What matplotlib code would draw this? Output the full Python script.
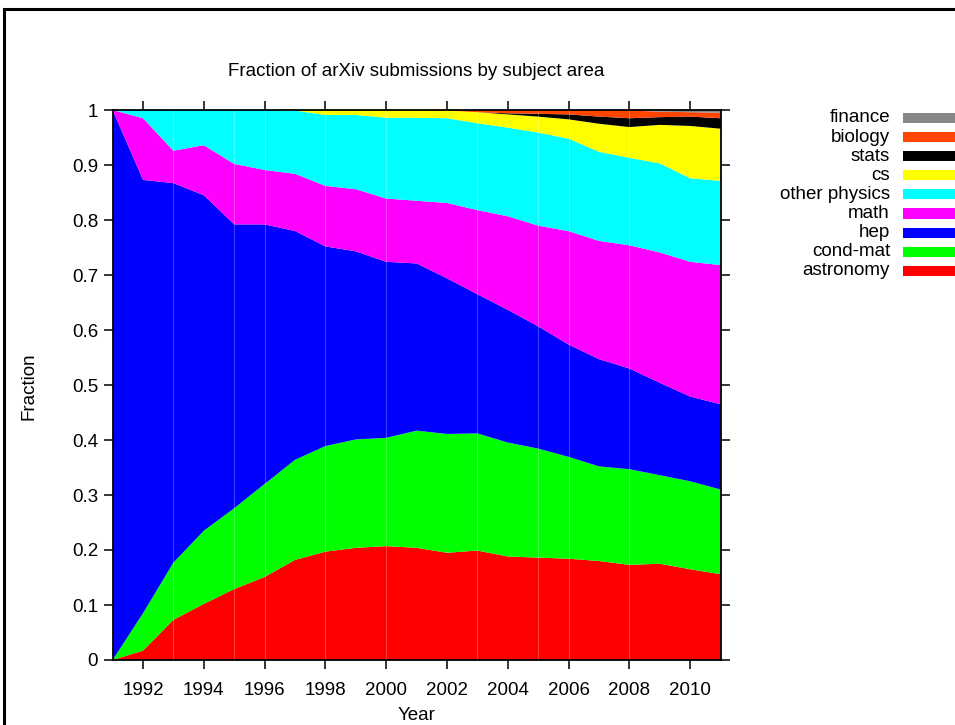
import numpy as np
import matplotlib
matplotlib.use("Agg")
import matplotlib.pyplot as plt
from matplotlib.patches import Rectangle

plt.rcParams['font.family'] = ['Liberation Sans', 'DejaVu Sans']

years = np.arange(1991, 2012)

# fraction of submissions per subject area, one value per year 1991..2011
astronomy = [0.000, 0.017, 0.073, 0.102, 0.129, 0.151, 0.182, 0.197, 0.204, 0.207, 0.204,
             0.195, 0.199, 0.188, 0.186, 0.184, 0.180, 0.173, 0.175, 0.165, 0.156]
cond_mat = [0.000, 0.068, 0.104, 0.133, 0.147, 0.169, 0.182, 0.192, 0.197, 0.197, 0.213,
            0.216, 0.213, 0.207, 0.198, 0.185, 0.172, 0.174, 0.161, 0.160, 0.154]
hep = [1.000, 0.788, 0.690, 0.610, 0.516, 0.472, 0.416, 0.363, 0.342, 0.320, 0.304,
       0.283, 0.253, 0.241, 0.222, 0.204, 0.195, 0.183, 0.168, 0.154, 0.155]
math = [0.000, 0.112, 0.059, 0.091, 0.110, 0.099, 0.104, 0.110, 0.113, 0.115, 0.114,
        0.137, 0.153, 0.170, 0.183, 0.206, 0.215, 0.224, 0.237, 0.245, 0.253]
other_physics = [0.000, 0.015, 0.074, 0.064, 0.098, 0.109, 0.115, 0.129, 0.135, 0.147, 0.151,
                 0.154, 0.158, 0.161, 0.169, 0.168, 0.162, 0.159, 0.162, 0.152, 0.153]
cs = [0.000, 0.000, 0.000, 0.000, 0.000, 0.000, 0.001, 0.009, 0.009, 0.014, 0.014,
      0.014, 0.020, 0.024, 0.029, 0.035, 0.051, 0.056, 0.070, 0.095, 0.095]
stats = [0.000, 0.000, 0.000, 0.000, 0.000, 0.000, 0.000, 0.000, 0.000, 0.000, 0.000,
         0.000, 0.000, 0.002, 0.005, 0.009, 0.013, 0.016, 0.014, 0.017, 0.019]
biology = [0.000, 0.000, 0.000, 0.000, 0.000, 0.000, 0.000, 0.000, 0.000, 0.000, 0.000,
           0.001, 0.004, 0.006, 0.007, 0.008, 0.012, 0.014, 0.010, 0.008, 0.010]
finance = [0.000, 0.000, 0.000, 0.000, 0.000, 0.000, 0.000, 0.000, 0.000, 0.000, 0.000,
           0.000, 0.000, 0.000, 0.000, 0.000, 0.000, 0.001, 0.003, 0.004, 0.005]

labels = ['astronomy', 'cond-mat', 'hep', 'math', 'other physics', 'cs', 'stats', 'biology', 'finance']
colors = ['#ff0000', '#00ff00', '#0000ff', '#ff00ff', '#00ffff', '#ffff00', '#000000', '#ff4500', '#888888']

data = np.array([astronomy, cond_mat, hep, math, other_physics, cs, stats, biology, finance])
data = data / data.sum(axis=0)

# faint seams between polygon pieces in the original rendering
seam_years = [1993, 1995, 1996, 1998, 2000, 2003, 2005, 2006, 2008]

W, H = 955, 725
fig = plt.figure(figsize=(W / 100, H / 100), dpi=100)
ax = fig.add_axes([112.6 / W, 1 - 660 / H, (720.6 - 112.6) / W, (660 - 110) / H])

ax.stackplot(years, data, colors=colors, linewidth=0, antialiased=True)
for sy in seam_years:
    ax.axvline(sy, color='white', alpha=0.25, lw=0.8)

ax.set_xlim(1991, 2011)
ax.set_ylim(0, 1)
ax.set_xticks(np.arange(1992, 2011, 2))
ax.set_yticks(np.round(np.arange(0, 1.01, 0.1), 1))
ax.set_yticklabels(['0'] + ['%.1f' % v for v in np.arange(0.1, 0.95, 0.1)] + ['1'])
ax.tick_params(direction='out', length=6.5, width=1.1, top=True, right=True,
               labelsize=13.5, pad=4, colors='black')
ax.tick_params(axis='x', pad=9)
for s in ax.spines.values():
    s.set_linewidth(1.3)

fs = 13.5
fig.text(416.6 / W, 1 - 72 / H, 'Fraction of arXiv submissions by subject area',
         ha='center', va='center', fontsize=fs)
fig.text(416.6 / W, 1 - 716 / H, 'Year', ha='center', va='center', fontsize=fs)
fig.text(29 / W, 1 - 386 / H, 'Fraction', ha='center', va='center', rotation=90, fontsize=fs)

# legend, gnuplot style: right-aligned text, sample to the right
for i, (lab, col) in enumerate(zip(labels[::-1], colors[::-1])):
    yc = 118 + 19.1 * i
    fig.text(890 / W, 1 - yc / H, lab, ha='right', va='center', fontsize=fs)
    fig.patches.append(Rectangle((903 / W, 1 - (yc + 5) / H), 60 / W, 10 / H,
                                 transform=fig.transFigure, facecolor=col,
                                 edgecolor='none'))

# outer frame (only top and left visible in the original crop)
fig.patches.append(Rectangle((4 / W, -0.1), 1.2, 1 - 9 / H + 0.1,
                             transform=fig.transFigure, facecolor='none',
                             edgecolor='black', linewidth=2.2))

fig.savefig('out.png', dpi=100)
